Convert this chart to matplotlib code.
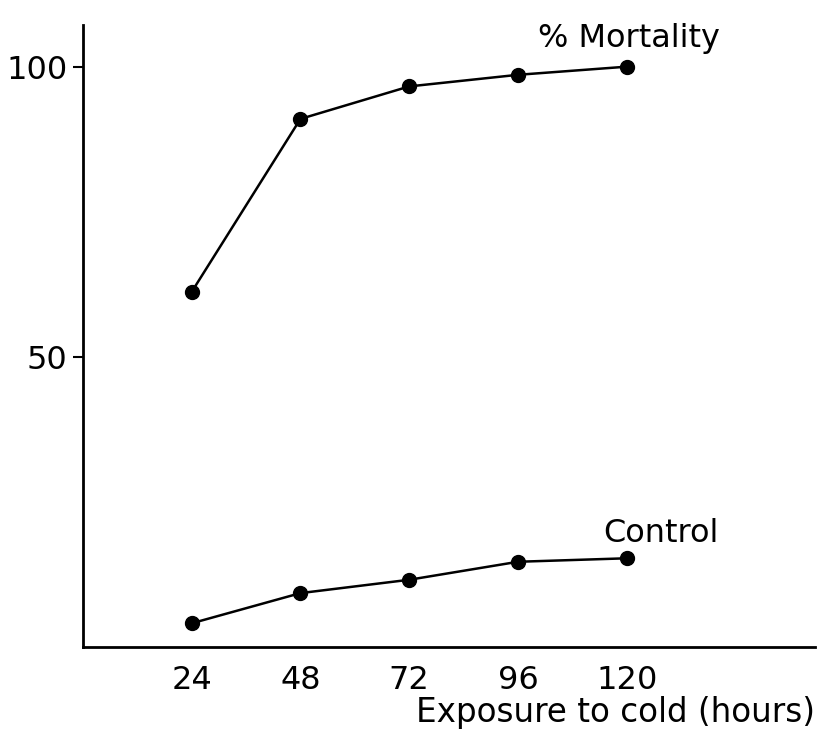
import matplotlib
matplotlib.use("Agg")
import matplotlib.pyplot as plt

hours = [24, 48, 72, 96, 120]
mortality = [61.2, 91.0, 96.6, 98.6, 100.0]
control = [4.1, 9.3, 11.6, 14.7, 15.3]
yticks = [50, 100]

plt.rcParams['font.family'] = ['DejaVu Sans']

fig = plt.figure(figsize=(8.21, 7.32), dpi=100)
ax = fig.add_axes([0.101, 0.116, 0.892, 0.85])

ax.plot(hours, mortality, color='black', lw=1.8, marker='o', ms=10)
ax.plot(hours, control, color='black', lw=1.8, marker='o', ms=10)

ax.set_xlim(0, 161.6)
ax.set_ylim(0, 107.2)
ax.set_xticks(hours)
ax.set_yticks(yticks)
ax.tick_params(axis='x', length=0, pad=13, labelsize=23)
ax.tick_params(axis='y', length=7, width=1.5, pad=4, labelsize=23)

for s in ['top', 'right']:
    ax.spines[s].set_visible(False)
ax.spines['left'].set_linewidth(2)
ax.spines['bottom'].set_linewidth(2)

ax.text(120.5, 103.4, "% Mortality", fontsize=23, ha='center', va='baseline')
ax.text(127.5, 18.1, "Control", fontsize=23, ha='center', va='baseline')
fig.text(0.993, 0.0137, "Exposure to cold (hours)", fontsize=23.5,
         ha='right', va='baseline')

plt.savefig('out.png', dpi=100)
plt.close()
